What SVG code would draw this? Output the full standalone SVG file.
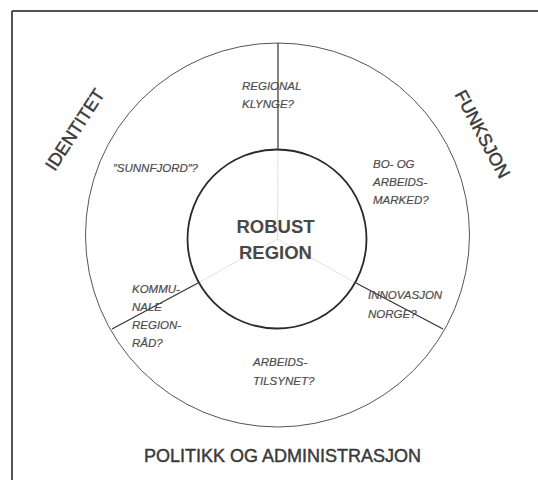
<svg xmlns="http://www.w3.org/2000/svg" width="538" height="480" viewBox="0 0 538 480">
  <style>
    .lbl { font-family: "Liberation Sans", Arial, sans-serif; font-style: italic; font-size: 11.5px; fill: #4d4d4d; stroke: #4d4d4d; stroke-width: 0.2px; }
    .big { font-family: "Liberation Sans", Arial, sans-serif; font-size: 18px; fill: #3a3a3a; stroke: #3a3a3a; stroke-width: 0.45px; }
    .core { font-family: "Liberation Sans", Arial, sans-serif; font-weight: bold; font-size: 18.5px; fill: #484848; text-anchor: middle; }
    .faint { stroke: #e2e2e2; stroke-width: 1; fill: none; }
    .div { stroke: #333; stroke-width: 1.2; fill: none; }
  </style>
  <rect x="0" y="0" width="538" height="480" fill="#fff"/>
  <g id="frame" stroke="#1a1a1a" stroke-width="1.5" fill="none">
    <line x1="12" y1="11" x2="538" y2="11"/>
    <line x1="12" y1="11" x2="12" y2="480"/>
  </g>
  <g id="outer-ring">
    <circle cx="277.5" cy="235" r="192" fill="none" stroke="#555" stroke-width="1"/>
  </g>
  <g id="connectors">
    <line class="faint" x1="277.5" y1="239" x2="278" y2="150"/>
    <line class="faint" x1="277.5" y1="239" x2="198" y2="283"/>
    <line class="faint" x1="277.5" y1="239" x2="356" y2="283"/>
    <line class="div" x1="278" y1="43" x2="278" y2="150"/>
    <line class="div" x1="198" y1="283" x2="112" y2="329"/>
    <line class="div" x1="356" y1="283" x2="443" y2="329"/>
  </g>
  <g id="robust-region">
    <circle cx="277" cy="239" r="89.5" fill="none" stroke="#2a2a2a" stroke-width="1.8"/>
    <text class="core" x="275.5" y="233">ROBUST</text>
    <text class="core" x="275.5" y="259">REGION</text>
  </g>
  <g id="identitet">
    <text class="big" text-anchor="middle" transform="translate(80,133) rotate(-57)">IDENTITET</text>
  </g>
  <g id="funksjon">
    <text class="big" text-anchor="middle" transform="translate(477,137) rotate(62)">FUNKSJON</text>
  </g>
  <g id="politikk">
    <text class="big" x="282.5" y="462" text-anchor="middle">POLITIKK OG ADMINISTRASJON</text>
  </g>
  <g id="regional-klynge">
    <text class="lbl" x="242" y="90">REGIONAL</text>
    <text class="lbl" x="242" y="108">KLYNGE?</text>
  </g>
  <g id="sunnfjord">
    <text class="lbl" x="113" y="172">”SUNNFJORD”?</text>
  </g>
  <g id="bo-og-arbeidsmarked">
    <text class="lbl" x="373" y="168">BO- OG</text>
    <text class="lbl" x="373" y="186">ARBEIDS-</text>
    <text class="lbl" x="373" y="204">MARKED?</text>
  </g>
  <g id="innovasjon-norge">
    <text class="lbl" x="368" y="299">INNOVASJON</text>
    <text class="lbl" x="368" y="318">NORGE?</text>
  </g>
  <g id="kommunale-regionrad">
    <text class="lbl" x="132" y="293">KOMMU-</text>
    <text class="lbl" x="132" y="311">NALE</text>
    <text class="lbl" x="132" y="329">REGION-</text>
    <text class="lbl" x="132" y="347">RÅD?</text>
  </g>
  <g id="arbeidstilsynet">
    <text class="lbl" x="253" y="366">ARBEIDS-</text>
    <text class="lbl" x="253" y="385">TILSYNET?</text>
  </g>
</svg>
